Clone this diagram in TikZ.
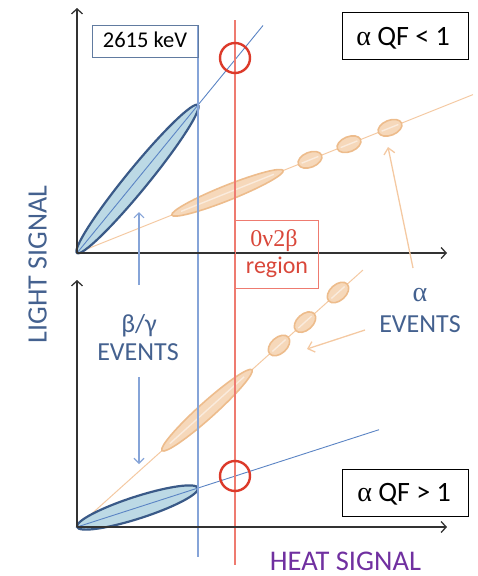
\documentclass[tikz,border=0pt]{standalone}
\usepackage{fontspec}
\setmainfont{Carlito}
\newfontfamily\grk{Liberation Serif}
\usetikzlibrary{arrows.meta}
\definecolor{axisc}{HTML}{333333}
\definecolor{bluel}{HTML}{5B84C4}
\definecolor{bluev}{HTML}{86A4D8}
\definecolor{blued}{HTML}{3A5A88}
\definecolor{bluefill}{HTML}{BCD9E5}
\definecolor{redc}{HTML}{DC3A2A}
\definecolor{redl}{HTML}{EE7B70}
\definecolor{redt}{HTML}{D9473A}
\definecolor{orl}{HTML}{F4C9A2}
\definecolor{orfill}{HTML}{F6D8BA}
\definecolor{ordraw}{HTML}{EDBC8C}
\definecolor{orstripe}{HTML}{FAEBDD}
\definecolor{txtblue}{HTML}{44618F}
\definecolor{purp}{HTML}{7030A0}
\tikzset{
  axis/.style={draw=axisc, line width=1.3pt, -{Straight Barb[length=5pt,width=11pt]}},
  bline/.style={draw=bluel, line width=0.9pt},
  vblue/.style={draw=bluev, line width=1.2pt},
  vred/.style={draw=redl, line width=1.2pt},
  bell/.style={draw=blued, fill=bluefill, line width=2.2pt},
  oline/.style={draw=orl, line width=1pt},
  oell/.style={draw=ordraw, fill=orfill, line width=1.6pt},
  ostripe/.style={draw=orstripe, line width=1.4pt},
  rcirc/.style={draw=redc, line width=2.4pt},
  barrow/.style={draw=bluev, line width=1.1pt, -{Straight Barb[length=5pt,width=10pt]}},
  oarrow/.style={draw=orl, line width=1.3pt, -{Straight Barb[length=6pt,width=11pt]}},
  qfbox/.style={draw=black, line width=1pt, minimum width=126pt, minimum height=47pt, inner sep=0pt},
  txt/.style={inner sep=0pt, anchor=base},
  qft/.style={txt, font=\fontsize{28}{30}\selectfont},
}
\begin{document}
\begin{tikzpicture}[x=1pt,y=1pt]
\useasboundingbox (0,0) rectangle (477,-576);
% origins
\coordinate (O1) at (77,-253);
\coordinate (O2) at (77,-527);
\coordinate (Y1) at (77,-8);
\coordinate (X1) at (447,-253);
\coordinate (Y2) at (77,-280);
\coordinate (X2) at (447,-527);
% orange lines
\coordinate (OE1) at (473,-94.6);
\coordinate (OE2) at (363,-270);
\draw[oline] (O1) -- (OE1);
\draw[oline] (O2) -- (OE2);
% blue lines
\coordinate (BE1) at (263,-25.5);
\coordinate (BE2) at (379,-429.7);
\draw[bline] (O1) -- (BE1);
\draw[bline] (O2) -- (BE2);
% top orange ellipses
\begin{scope}[shift={(227.5,-192.8)}, rotate=21.8]
  \draw[oell] (0,0) ellipse [x radius=60, y radius=7.5];
  \draw[ostripe] (-50,0) -- (50,0);
\end{scope}
\foreach \x/\y in {310/-159.8, 349/-144.2, 390/-127.8}{
  \begin{scope}[shift={(\x,\y)}, rotate=21.8]
    \draw[oell] (0,0) ellipse [x radius=12.5, y radius=7.5];
    \draw[ostripe] (-9,0) -- (9,0);
  \end{scope}
}
% bottom orange ellipses
\begin{scope}[shift={(207,-410.2)}, rotate=41.94]
  \draw[oell] (0,0) ellipse [x radius=60.5, y radius=8];
  \draw[ostripe] (-50,0) -- (50,0);
\end{scope}
\foreach \x/\y in {279/-345.5, 305/-322.1, 338/-292.5}{
  \begin{scope}[shift={(\x,\y)}, rotate=41.94]
    \draw[oell] (0,0) ellipse [x radius=12.5, y radius=8];
    \draw[ostripe] (-9,0) -- (9,0);
  \end{scope}
}
% blue ellipses
\begin{scope}[shift={(137.5,-179)}, rotate=50.73]
  \draw[bell] (0,0) ellipse [x radius=95.6, y radius=11];
  \draw[bline] (-95,0) -- (95,0);
\end{scope}
\begin{scope}[shift={(137.5,-507.5)}, rotate=17.86]
  \draw[bell] (0,0) ellipse [x radius=63.5, y radius=11];
  \draw[bline] (-63,0) -- (63,0);
\end{scope}
% vertical lines
\coordinate (VBt) at (198,-25);
\coordinate (VBb) at (198,-557);
\coordinate (VRt) at (235,-20);
\coordinate (VRb) at (235,-565);
\draw[vblue] (VBt) -- (VBb);
\draw[vred] (VRt) -- (VRb);
% axes
\draw[axis] (O1) -- (Y1);
\draw[axis] (O1) -- (X1);
\draw[axis] (O2) -- (Y2);
\draw[axis] (O2) -- (X2);
% red circles
\draw[rcirc] (235,-58) circle [radius=15];
\draw[rcirc] (235,-476) circle [radius=15];
% boxes
\node[draw=blued!80, line width=1pt, minimum width=106pt, minimum height=32pt, inner sep=0pt] (kev) at (145,-41) {};
\node[txt, font=\fontsize{22.5}{24}\selectfont] (kevt) at (145,-47) {2615 keV};
\node[qfbox] (qf1) at (405,-36) {};
\node[qft] (qf1t) at (403,-45) {{\grk α} QF < 1};
\node[qfbox] (qf2) at (405,-492.5) {};
\node[qft] (qf2t) at (404,-501.5) {{\grk α} QF > 1};
\node[draw=redl, line width=1pt, minimum width=83pt, minimum height=68pt, inner sep=0pt] (reg) at (276.5,-254) {};
\node[txt, text=redt, font=\grk\fontsize{24}{26}\selectfont] (nu) at (274,-246.5) {0ν2β};
\node[txt, text=redt, font=\fontsize{24}{26}\selectfont] (regt) at (277,-273) {region};
% labels
\node[txt, text=txtblue, font=\fontsize{28}{30}\selectfont, rotate=90] (ls) at (46.5,-264.5) {LIGHT SIGNAL};
\node[txt, text=purp, font=\fontsize{28.5}{30}\selectfont] (hs) at (345.5,-570) {HEAT SIGNAL};
\node[txt, text=txtblue, font=\fontsize{26}{28}\selectfont] (bg1) at (139,-332) {β/γ};
\node[txt, text=txtblue, font=\fontsize{26}{28}\selectfont] (bg2) at (138,-360) {EVENTS};
\node[txt, text=txtblue, font=\grk\fontsize{28}{28}\selectfont] (al1) at (420,-301.5) {α};
\node[txt, text=txtblue, font=\fontsize{26}{28}\selectfont] (al2) at (420,-332.5) {EVENTS};
% arrows
\coordinate (bgA) at (139,-285);
\coordinate (bgAt) at (139,-212);
\coordinate (bgB) at (139,-377);
\coordinate (bgBt) at (139,-464);
\draw[barrow] (bgA) -- (bgAt);
\draw[barrow] (bgB) -- (bgBt);
\coordinate (alA) at (413,-268);
\coordinate (alAt) at (388,-147);
\coordinate (alB) at (365,-330);
\coordinate (alBt) at (307,-349);
\draw[oarrow] (alA) -- (alAt);
\draw[oarrow] (alB) -- (alBt);
\end{tikzpicture}
\end{document}
